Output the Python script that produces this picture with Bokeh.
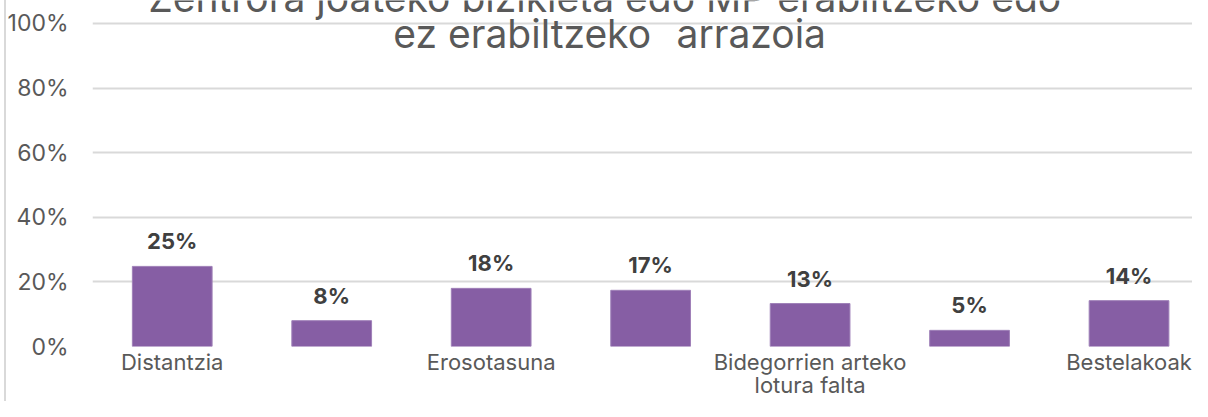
from bokeh.plotting import figure
from bokeh.models import Range1d, FixedTicker, NumeralTickFormatter, Label, ColumnDataSource
from bokeh.core.properties import value
from bokeh.embed import file_html
from bokeh.resources import INLINE

# ---- data ----
categories = ["Distantzia", "", "Erosotasuna", "", "Bidegorrien arteko\nlotura falta", "", "Bestelakoak"]
shares = [0.248, 0.08, 0.18, 0.174, 0.133, 0.05, 0.142]
title_lines = ["Zentrora joateko bizikleta edo MP erabiltzeko edo",
               "ez erabiltzeko\u00a0\u00a0\u200aarrazoia"]
y_ticks = [0, 0.2, 0.4, 0.6, 0.8, 1.0]

FONT = "Inter"
idx = list(range(len(categories)))
labels = [f"{round(v * 100)}%" for v in shares]
src = ColumnDataSource(dict(x=idx, top=shares, lab=labels))

# frame reaches the top of the canvas; 100% still sits 23px below it
p = figure(width=1192, height=401, output_backend="svg", toolbar_location=None,
           x_range=Range1d(-0.5, 6.398), y_range=Range1d(0, 1.0712),
           min_border_left=92, min_border_right=0, min_border_top=0, min_border_bottom=0,
           styles={"background": "linear-gradient(to right, #ffffff 4px, #d9d9d9 4px, "
                                 "#d9d9d9 6px, #ffffff 6px)"})
p.outline_line_color = None
p.background_fill_color = "white"
p.border_fill_color = None

p.vbar(x="x", top="top", width=0.5, bottom=0, source=src,
       fill_color="#865EA4", line_color="#9f80b8", line_width=1)

p.text(x="x", y="top", text="lab", source=src, text_align="center",
       text_baseline="bottom", y_offset=-12,
       text_font=value(FONT), text_font_size="22px", text_font_style="bold",
       text_color="#404040")

# axes
p.xaxis.ticker = FixedTicker(ticks=idx)
p.xaxis.major_label_overrides = {i: c for i, c in zip(idx, categories)}
p.xaxis.axis_line_color = None
p.xaxis.major_tick_line_color = None
p.xaxis.major_tick_out = 0
p.xaxis.minor_tick_line_color = None
p.xaxis.minor_tick_out = 0
p.xaxis.major_label_text_font = FONT
p.xaxis.major_label_text_font_size = "22px"
p.xaxis.major_label_text_line_height = 0.92
p.xaxis.major_label_text_color = "#595959"
p.xaxis.major_label_standoff = 2

p.yaxis.ticker = FixedTicker(ticks=y_ticks)
p.yaxis.formatter = NumeralTickFormatter(format="0%")
p.yaxis.axis_line_color = None
p.yaxis.major_tick_line_color = None
p.yaxis.major_tick_out = 0
p.yaxis.minor_tick_line_color = None
p.yaxis.minor_tick_out = 0
p.yaxis.major_label_text_font = FONT
p.yaxis.major_label_text_font_size = "23px"
p.yaxis.major_label_text_color = "#595959"
p.yaxis.major_label_standoff = 24

p.xgrid.grid_line_color = None
p.ygrid.ticker = FixedTicker(ticks=y_ticks)
p.ygrid.grid_line_color = "#d9d9d9"
p.ygrid.grid_line_width = 2

# title (two lines, the first one partly off the top, as in the reference)
p.add_layout(Label(x=2.712, y=1.065, y_offset=5, text=title_lines[0], text_align="center",
                   text_baseline="alphabetic", text_font=FONT, text_font_size="39px",
                   text_color="#595959"))
p.add_layout(Label(x=2.743, y=0.969, text=title_lines[1], text_align="center",
                   text_baseline="alphabetic", text_font=FONT, text_font_size="39px",
                   text_color="#595959"))

open("out.html", "w").write(file_html(p, INLINE))
